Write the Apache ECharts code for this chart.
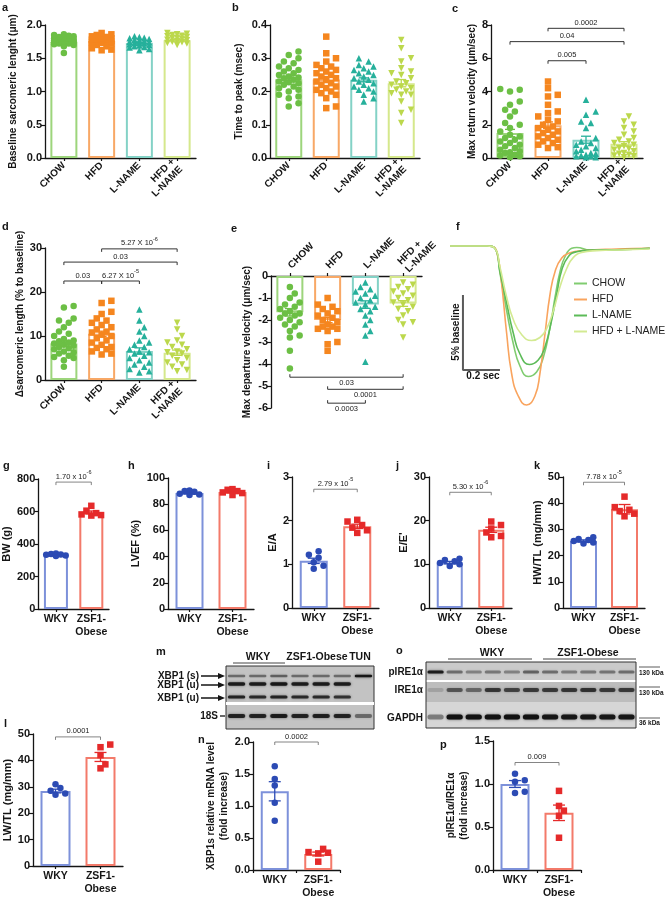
<!DOCTYPE html>
<html><head><meta charset="utf-8">
<script src="https://cdn.jsdelivr.net/npm/echarts@6/dist/echarts.min.js"></script>
<style>html,body{margin:0;padding:0;background:#fff}#c{width:667px;height:900px}</style>
</head><body><div id="c"></div>
<script>
// ================= DATA =================
const groupCats = ['CHOW','HFD','L-NAME','HFD +\nL-NAME'];
const pairCats = ['WKY','ZSF1-\nObese'];

// a: baseline sarcomeric length (µm)
const a_CHOW = [1.58,1.68,1.70,1.71,1.72,1.72,1.73,1.74,1.74,1.75,1.75,1.76,1.76,1.77,1.77,1.78,1.78,1.79,1.80,1.80,1.81,1.82,1.83,1.84,1.85,1.86];
const a_HFD = [1.62,1.63,1.65,1.68,1.70,1.72,1.73,1.74,1.75,1.76,1.76,1.77,1.78,1.78,1.79,1.80,1.81,1.82,1.83,1.85,1.86,1.88];
const a_LNAME = [1.62,1.64,1.66,1.67,1.68,1.69,1.70,1.71,1.72,1.73,1.73,1.74,1.75,1.76,1.77,1.78,1.79,1.80,1.81,1.82,1.83];
const a_HFDL = [1.70,1.72,1.73,1.74,1.75,1.76,1.77,1.78,1.79,1.80,1.81,1.82,1.83,1.84,1.85,1.86,1.87,1.88];
const a_means = [1.75,1.76,1.73,1.77];
const a_sems = [0.012,0.014,0.012,0.012];

// b: time to peak (msec)
const b_CHOW = [0.155,0.165,0.18,0.185,0.19,0.20,0.205,0.21,0.215,0.22,0.225,0.228,0.23,0.235,0.24,0.242,0.245,0.25,0.255,0.26,0.265,0.27,0.275,0.285,0.29,0.30,0.31,0.32];
const b_HFD = [0.15,0.155,0.18,0.19,0.195,0.20,0.205,0.21,0.215,0.22,0.225,0.23,0.235,0.24,0.245,0.25,0.255,0.26,0.265,0.27,0.275,0.28,0.29,0.30,0.315,0.365];
const b_LNAME = [0.17,0.18,0.19,0.20,0.205,0.21,0.215,0.22,0.225,0.23,0.235,0.24,0.245,0.25,0.255,0.26,0.265,0.27,0.275,0.28,0.29,0.30];
const b_HFDL = [0.105,0.135,0.145,0.17,0.19,0.19,0.195,0.20,0.205,0.21,0.215,0.22,0.225,0.23,0.24,0.25,0.255,0.26,0.27,0.29,0.30,0.33,0.355];
const b_means = [0.237,0.236,0.235,0.225];
const b_sems = [0.007,0.009,0.006,0.011];

// c: max return velocity (µm/sec)
const c_CHOW = [0.05,0.1,0.15,0.2,0.3,0.35,0.4,0.5,0.6,0.7,0.8,0.9,1.0,1.1,1.2,1.3,1.4,1.6,1.8,2.0,2.1,2.5,2.8,2.9,3.2,3.4,4.0,4.1,4.15];
const c_HFD = [0.6,0.65,0.8,0.9,1.0,1.1,1.2,1.3,1.4,1.5,1.6,1.7,1.8,1.9,2.0,2.2,2.3,2.5,2.7,2.8,3.2,3.7,3.8,4.2,4.6];
const c_LNAME = [0.05,0.05,0.1,0.1,0.15,0.2,0.25,0.3,0.4,0.5,0.6,0.7,0.8,0.9,1.0,1.2,1.8,2.1,2.2,2.6,2.8,3.5];
const c_HFDL = [0.05,0.1,0.15,0.2,0.25,0.3,0.4,0.5,0.55,0.6,0.7,0.8,0.9,1.0,1.1,1.2,1.4,1.6,1.8,2.0,2.2,2.5];
const c_means = [1.5,1.97,1.1,0.85];
const c_sems = [0.22,0.2,0.21,0.13];
const c_brackets = [[1,3,7.8],[0,3,7.0],[1,2,5.85]];
const c_bLabels = ['0.0002','0.04','0.005'];

// d: Δ sarcomeric length (% to baseline)
const d_CHOW = [3.0,4.5,5.0,5.2,5.5,6.0,6.3,6.5,7.0,7.2,7.5,7.8,8.0,8.3,8.5,8.8,9.0,9.3,10.0,10.5,11.0,12.0,13.0,13.5,14.0,16.5,16.8];
const d_HFD = [5.8,6.0,6.5,7.0,7.3,7.5,8.0,8.5,9.0,9.5,10.0,10.3,10.8,11.0,11.5,12.0,12.5,13.0,13.5,14.0,15.0,15.5,17.5,18.0];
const d_LNAME = [1.7,2.0,2.5,3.0,3.5,4.0,4.5,5.0,5.5,6.0,6.3,6.5,7.0,7.5,8.0,8.5,9.0,10.0,11.0,12.0,13.5,16.0];
const d_HFDL = [2.0,2.3,3.0,3.5,4.0,4.5,5.0,5.5,6.0,6.3,6.5,7.0,7.5,8.0,8.5,9.0,10.0,11.5,13.0];
const d_means = [8.3,10.5,6.6,6.2];
const d_sems = [0.6,0.6,0.7,0.6];
const d_brackets = [[1,3,29.8],[0,3,26.8],[0,1,22.5],[1,2,22.5]];
const d_bLabels = ['{b|5.27 X 10}{s|-6}','{b|0.03}','{b|0.03}','{b|6.27 X 10}{s|-5}'];

// e: max departure velocity (µm/sec)
const e_CHOW = [-0.5,-0.8,-1.0,-1.2,-1.3,-1.4,-1.5,-1.6,-1.7,-1.7,-1.8,-1.9,-2.0,-2.1,-2.2,-2.3,-2.5,-2.7,-2.8,-3.4,-4.2];
const e_HFD = [-1.0,-1.3,-1.4,-1.5,-1.6,-1.7,-1.8,-1.9,-2.0,-2.1,-2.2,-2.3,-2.3,-2.4,-2.4,-2.5,-3.0,-3.1,-3.4];
const e_LNAME = [-0.3,-0.5,-0.6,-0.7,-0.8,-0.9,-1.0,-1.1,-1.2,-1.3,-1.4,-1.5,-1.6,-1.8,-2.0,-2.2,-2.5,-2.7,-3.9];
const e_HFDL = [-0.3,-0.4,-0.5,-0.6,-0.7,-0.8,-0.9,-1.0,-1.1,-1.2,-1.3,-1.4,-1.5,-1.6,-1.8,-2.0,-2.1,-2.2,-2.8];
const e_means = [-1.65,-2.0,-1.3,-1.25];
const e_sems = [0.17,0.12,0.17,0.13];
const e_brackets = [[0,3,-4.6],[1,3,-5.15],[1,2,-5.78]];
const e_bLabels = ['0.03','0.0001','0.0003'];

// f: sarcomere shortening traces [time (s), % change from baseline]
const f_CHOW = [[0,0],[0.2,0],[0.243,-0.16],[0.27,-1.8],[0.306,-4.3],[0.342,-6.5],[0.378,-8.0],[0.423,-8.7],[0.468,-8.4],[0.505,-7.4],[0.541,-5.4],[0.568,-3.4],[0.595,-1.7],[0.622,-0.7],[0.658,-0.15],[0.685,-0.1],[0.757,-0.27],[0.9,-0.25],[1.08,-0.15]];
const f_HFD = [[0,0],[0.2,0],[0.234,-0.05],[0.26,-0.8],[0.279,-2.5],[0.306,-5.8],[0.333,-8.5],[0.369,-10.0],[0.414,-10.6],[0.459,-10.0],[0.486,-8.5],[0.514,-5.8],[0.541,-3.2],[0.568,-1.7],[0.604,-0.8],[0.649,-0.45],[0.721,-0.3],[0.9,-0.2],[1.08,-0.15]];
const f_LNAME = [[0,0],[0.2,0],[0.243,-0.16],[0.27,-1.7],[0.306,-3.8],[0.342,-5.8],[0.378,-7.2],[0.429,-7.9],[0.477,-7.6],[0.514,-6.7],[0.55,-4.9],[0.577,-3.2],[0.604,-1.6],[0.64,-0.7],[0.685,-0.38],[0.757,-0.27],[0.9,-0.25],[1.08,-0.15]];
const f_HFDL = [[0,0],[0.2,0],[0.243,-0.16],[0.27,-1.4],[0.306,-3.4],[0.342,-4.9],[0.387,-5.9],[0.441,-6.3],[0.486,-6.1],[0.523,-5.5],[0.559,-4.3],[0.595,-2.7],[0.631,-1.5],[0.667,-0.76],[0.712,-0.44],[0.793,-0.31],[0.95,-0.25],[1.08,-0.2]];
const f_scaleBar = [[0.07,-3.27],[0.07,-8.27],[0.27,-8.27]];
const f_names = ['CHOW','HFD','L-NAME','HFD + L-NAME'];

// g-l, n, p: WKY vs ZSF1-Obese
const g_WKY = [338,341,330,326,334,336], g_ZSF = [635,605,590,578,582,575];
const g_means = [333,594], g_sems = [2.3,9];
const h_WKY = [90.5,89.5,87.5,87,88,90], h_ZSF = [91.5,90,87,88.5,91,89];
const h_means = [88.6,89.4], h_sems = [0.6,0.7];
const i_WKY = [1.3,1.22,1.15,1.05,0.97,0.9], i_ZSF = [2.02,1.98,1.9,1.84,1.78,1.72];
const i_means = [1.08,1.87], i_sems = [0.06,0.05];
const j_WKY = [11.3,11.0,10.7,10.3,10.0,9.6], j_ZSF = [19.8,19.0,18.2,17.3,16.5,16.2];
const j_means = [10.4,17.9], j_sems = [0.27,0.6];
const k_WKY = [27.0,26.3,25.6,25.0,24.6,26.0], k_ZSF = [42.5,38.5,37.0,36.0,35.0,37.5];
const k_means = [25.6,37.7], k_sems = [0.4,1.8];
const l_WKY = [31,29.5,28.5,27.5,27], l_ZSF = [46,45,42,38.5,37];
const l_means = [28.4,41.3], l_sems = [0.7,1.7];
const n_WKY = [1.62,1.42,1.32,1.05,0.77], n_ZSF = [0.33,0.28,0.27,0.26,0.13];
const n_means = [1.23,0.25], n_sems = [0.15,0.03];
const p_WKY = [1.12,1.045,1.025,0.91,0.895], p_ZSF = [0.92,0.745,0.69,0.63,0.375];
const p_means = [1.0,0.665], p_sems = [0.04,0.09];
const g_bLabels = ['{b|1.70 x 10}{s|-6}'], i_bLabels = ['{b|2.79 x 10}{s|-5}'], j_bLabels = ['{b|5.30 x 10}{s|-6}'];
const k_bLabels = ['{b|7.78 x 10}{s|-5}'], l_bLabels = ['{b|0.0001}'], n_bLabels = ['{b|0.0002}'], p_bLabels = ['{b|0.009}'];
const g_br = [[0,1,781]], i_br = [[0,1,2.72]], j_br = [[0,1,26.5]], k_br = [[0,1,48]], l_br = [[0,1,48.9]], n_br = [[0,1,2.0]], p_br = [[0,1,1.25]];

// western blots (band intensity per lane, 0..1)
const m_lanes = ['1','2','3','4','5','6','7'];
const m_XBP1s = [0.45,0.45,0.5,0.45,0.45,0.45,0.95];
const m_XBP1u1 = [0.9,0.9,0.95,0.9,0.92,0.9,0];
const m_XBP1u2 = [0.85,0.8,0.85,0.8,0.8,0.75,0];
const m_18S = [0.85,0.85,0.9,0.85,0.88,0.85,0.45];
const o_lanes = ['1','2','3','4','5','6','7','8','9','10','11'];
const o_pIRE = [0.9,0.45,0.35,0.4,0.35,0.5,0.45,0.38,0.4,0.42,0.45];
const o_IRE = [0.15,0.55,0.45,0.72,0.65,0.7,0.7,0.72,0.75,0.7,0.7];
const o_GAPDH = [0.4,1,1,1,1,1,0.95,0.95,0.95,0.95,0.95];

// ================= STYLE / LAYOUT =================
const FONT = 'Arial, "Liberation Sans", Helvetica, sans-serif';
const INK = '#151515';
const grpPoint = ['#6cbf45','#f5861f','#26b09b','#bcd84c'];
const grpBar = ['#9dd57c','#f8a866','#84d2c6','#d5e88c'];
const grpSym = ['circle','rect','triangle','path://M0,0L10,0L5,9Z'];
const pairPoint = ['#2c4bb4','#e52a2a'];
const pairBar = ['#7d91da','#f37a6a'];
const pairSym = ['circle','rect'];
const RICH = {
  b:{fontSize:7.5, fontFamily:FONT, fill:'#222', verticalAlign:'bottom'},
  s:{fontSize:5.5, fontFamily:FONT, fill:'#222', verticalAlign:'top', padding:[0,0,5,0]}
};

const grids=[], xAxes=[], yAxes=[], series=[], graphics=[];

function swarm(vals, ppu, size, halfW){
  const order = vals.map((v,i)=>i).sort((a,b)=>vals[a]-vals[b]);
  const placed=[], offs=new Array(vals.length).fill(0);
  const step=size*0.75, cands=[0];
  for(let k=1;k*step<=halfW;k++){cands.push(k*step,-k*step);}
  order.forEach(i=>{
    const y=vals[i]*ppu; let best=0,bestD=-1;
    for(const c of cands){
      let md=Infinity;
      for(const p of placed){const d=Math.hypot(p[0]-c,p[1]-y); if(d<md) md=d;}
      if(md>=size*0.95){best=c;break;}
      if(md>bestD){bestD=md;best=c;}
    }
    placed.push([best,y]); offs[i]=best;
  });
  return offs;
}

function panel(P){
  const gi=grids.length;
  grids.push({left:P.left,top:P.top,width:P.width,height:P.height});
  xAxes.push({gridIndex:gi,type:'category',data:P.cats,position:P.xTop?'top':'bottom',
    axisLine:{onZero:false,lineStyle:{color:INK,width:1.3}},
    axisTick:{show:true,alignWithLabel:P.tickCenter!==false,length:3,lineStyle:{color:INK,width:1.2}},
    axisLabel:{interval:0,rotate:P.rotate||0,color:INK,fontWeight:'bold',fontSize:P.xFont||10,fontFamily:FONT,margin:P.xMargin||5,lineHeight:P.xLH||11}});
  yAxes.push({gridIndex:gi,type:'value',min:P.min,max:P.max,interval:P.interval,name:P.name,nameLocation:'middle',nameGap:P.nameGap,
    nameTextStyle:{color:INK,fontWeight:'bold',fontSize:P.nameFont||10,fontFamily:FONT,lineHeight:P.nameLH||12},
    axisLine:{show:true,onZero:false,lineStyle:{color:INK,width:1.3}},
    axisTick:{show:true,length:4,lineStyle:{color:INK,width:1.2}},
    splitLine:{show:false},
    axisLabel:{color:INK,fontWeight:'bold',fontSize:P.yFont||11,fontFamily:FONT,margin:3,formatter:P.fmt||(v=>String(v))}});
  series.push({type:'bar',xAxisIndex:gi,yAxisIndex:gi,barWidth:P.barWidth,silent:true,z:2,animation:false,
    data:P.means.map((m,i)=>({value:m,itemStyle:{color:'rgba(255,255,255,0)',borderColor:P.barColors[i],borderWidth:2}}))});
  const ppu=P.height/(P.max-P.min);
  P.points.forEach((vals,i)=>{
    const offs=swarm(vals,ppu,P.sym,P.spread||(P.barWidth/2-1));
    series.push({type:'scatter',xAxisIndex:gi,yAxisIndex:gi,symbol:P.symbols[i],symbolSize:P.sym,z:3,silent:true,
      itemStyle:{color:P.pointColors[i],opacity:1},
      data:vals.map((v,j)=>({value:[i,v],symbolOffset:[offs[j],0]}))});
  });
  series.push({type:'custom',xAxisIndex:gi,yAxisIndex:gi,z:4,silent:true,encode:{x:0,y:1},
    data:P.means.map((m,i)=>[i,m,P.sems[i]]),
    renderItem:(params,api)=>{
      const i=api.value(0),m=api.value(1),s=api.value(2);
      const hi=api.coord([i,m+s]),lo=api.coord([i,m-s]),c=P.pointColors[i],w=P.cap;
      const st={stroke:c,lineWidth:1.3};
      return {type:'group',children:[
        {type:'line',shape:{x1:hi[0],y1:hi[1],x2:lo[0],y2:lo[1]},style:st},
        {type:'line',shape:{x1:hi[0]-w,y1:hi[1],x2:hi[0]+w,y2:hi[1]},style:st},
        {type:'line',shape:{x1:lo[0]-w,y1:lo[1],x2:lo[0]+w,y2:lo[1]},style:st}]};
    }});
  if(P.brackets){
    const d=P.bDir||1;
    series.push({type:'custom',xAxisIndex:gi,yAxisIndex:gi,z:5,silent:true,encode:{x:[0,1],y:2},
      data:P.brackets,
      renderItem:(params,api)=>{
        const a=api.coord([api.value(0),api.value(2)]),b=api.coord([api.value(1),api.value(2)]);
        const t=3*d;
        return {type:'group',children:[
          {type:'polyline',shape:{points:[[a[0],a[1]+t],[a[0],a[1]],[b[0],b[1]],[b[0],b[1]+t]]},style:{stroke:P.bColor||'#333',lineWidth:P.bWidth||1,fill:null}},
          {type:'text',x:(a[0]+b[0])/2,y:a[1]-d*1.5,style:{text:P.bLabels[params.dataIndex],align:'center',verticalAlign:d>0?'bottom':'top',fill:'#222',fontSize:7.5,fontFamily:FONT,rich:RICH}}
        ]};
      }});
  }
}

const G = {cats:groupCats,rotate:45,barColors:grpBar,pointColors:grpPoint,symbols:grpSym,sym:6.5,cap:5,barWidth:27,xMargin:6};
panel(Object.assign({},G,{left:45,top:25,width:151,height:133,min:0,max:2,interval:0.5,fmt:v=>v.toFixed(1),
  name:'Baseline sarcomeric lenght (μm)',nameGap:26,points:[a_CHOW,a_HFD,a_LNAME,a_HFDL],means:a_means,sems:a_sems}));
panel(Object.assign({},G,{left:270,top:25,width:150,height:133,min:0,max:0.4,interval:0.1,fmt:v=>v.toFixed(1),
  name:'Time to peak (msec)',nameGap:25,points:[b_CHOW,b_HFD,b_LNAME,b_HFDL],means:b_means,sems:b_sems}));
panel(Object.assign({},G,{left:491,top:25,width:152,height:133,min:0,max:8,interval:2,
  name:'Max return velocity (μm/sec)',nameGap:13,points:[c_CHOW,c_HFD,c_LNAME,c_HFDL],means:c_means,sems:c_sems,
  brackets:c_brackets,bLabels:c_bLabels.map(s=>'{b|'+s+'}')}));
panel(Object.assign({},G,{left:45,top:248,width:151,height:132,min:0,max:30,interval:10,
  name:'Δsarcomeric length (% to baseline)',nameGap:17,points:[d_CHOW,d_HFD,d_LNAME,d_HFDL],means:d_means,sems:d_sems,
  brackets:d_brackets,bLabels:d_bLabels}));
panel(Object.assign({},G,{left:271,top:276,width:151,height:132,min:-6,max:0,interval:1,xTop:true,rotate:-45,xMargin:9,
  name:'Max departure velocity (μm/sec)',nameGap:18,points:[e_CHOW,e_HFD,e_LNAME,e_HFDL],means:e_means,sems:e_sems,
  brackets:e_brackets,bLabels:e_bLabels.map(s=>'{b|'+s+'}'),bDir:-1}));

const PP = {cats:pairCats,barColors:pairBar,pointColors:pairPoint,symbols:pairSym,sym:6.5,cap:6,xFont:10.5,xLH:13,xMargin:4,nameFont:11,bColor:'#666',bWidth:0.8};
panel(Object.assign({},PP,{left:37,top:479,width:72,height:130,min:0,max:800,interval:200,name:'BW (g)',nameGap:22,barWidth:24,
  points:[g_WKY,g_ZSF],means:g_means,sems:g_sems,brackets:g_br,bLabels:g_bLabels}));
panel(Object.assign({},PP,{left:168,top:478,width:86,height:131,min:0,max:100,interval:20,name:'LVEF (%)',nameGap:26,barWidth:28,
  points:[h_WKY,h_ZSF],means:h_means,sems:h_sems}));
panel(Object.assign({},PP,{left:292,top:477,width:87,height:131,min:0,max:3,interval:1,name:'E/A',nameGap:10,barWidth:28,
  points:[i_WKY,i_ZSF],means:i_means,sems:i_sems,brackets:i_br,bLabels:i_bLabels}));
panel(Object.assign({},PP,{left:429,top:477,width:83,height:131,min:0,max:30,interval:10,name:"E/E'",nameGap:16,barWidth:26,
  points:[j_WKY,j_ZSF],means:j_means,sems:j_sems,brackets:j_br,bLabels:j_bLabels}));
panel(Object.assign({},PP,{left:563,top:477,width:82,height:131,min:0,max:50,interval:10,name:'HW/TL (mg/mm)',nameGap:15,barWidth:27,
  points:[k_WKY,k_ZSF],means:k_means,sems:k_sems,brackets:k_br,bLabels:k_bLabels}));
panel(Object.assign({},PP,{left:33,top:734,width:90,height:132,min:0,max:50,interval:10,name:'LW/TL (mg/mm)',nameGap:17,barWidth:30,
  points:[l_WKY,l_ZSF],means:l_means,sems:l_sems,brackets:l_br,bLabels:l_bLabels}));
panel(Object.assign({},PP,{left:253,top:742,width:87,height:132,min:0,max:2,interval:0.5,fmt:v=>v.toFixed(1),
  name:'XBP1s relative mRNA level\n(fold increase)',nameGap:22,nameFont:10,nameLH:13,barWidth:28,tickCenter:false,
  points:[n_WKY,n_ZSF],means:n_means,sems:n_sems,brackets:n_br,bLabels:n_bLabels}));
panel(Object.assign({},PP,{left:493,top:741,width:88,height:132,min:0,max:1.5,interval:0.5,fmt:v=>v.toFixed(1),
  name:'pIRE1α/IRE1α\n(fold increase)',nameGap:19,nameFont:10,nameLH:13,barWidth:29,tickCenter:false,
  points:[p_WKY,p_ZSF],means:p_means,sems:p_sems,brackets:p_br,bLabels:p_bLabels}));

// f traces
(function(){
  const fi=grids.length;
  grids.push({left:450,top:231,width:200,height:195});
  xAxes.push({gridIndex:fi,type:'value',min:0,max:1.081,show:false});
  yAxes.push({gridIndex:fi,type:'value',min:-12,max:1,show:false});
  const cols=['#80cc70','#f9a45e','#5cbb58','#d3ea92'];
  [f_CHOW,f_HFD,f_LNAME,f_HFDL].forEach((d,i)=>{
    series.push({type:'line',name:f_names[i],xAxisIndex:fi,yAxisIndex:fi,data:d,showSymbol:false,smooth:0.5,
      lineStyle:{color:cols[i],width:1.6},itemStyle:{color:cols[i]},z:3,silent:true});
  });
  series.push({type:'line',xAxisIndex:fi,yAxisIndex:fi,data:f_scaleBar,showSymbol:false,lineStyle:{color:'#5a5a5a',width:2},silent:true});
})();

// blots
function blot(B){
  const bi=grids.length;
  grids.push({left:B.left,top:B.top,width:B.width,height:B.height});
  xAxes.push({gridIndex:bi,type:'category',data:B.lanes,show:false});
  yAxes.push({gridIndex:bi,type:'value',min:0,max:B.height,inverse:true,show:false});
  B.rows.forEach((vals,r)=>{
    series.push({type:'custom',xAxisIndex:bi,yAxisIndex:bi,silent:true,z:6,encode:{x:0,y:1},
      data:vals.map((a,i)=>[i,B.rowY[r],a]),
      renderItem:(params,api)=>{
        const a=api.value(2); if(a<=0) return null;
        const c=api.coord([api.value(0),api.value(1)]),w=api.size([1,0])[0]*B.frac,h=B.bandH[r];
        return {type:'rect',shape:{x:c[0]-w/2,y:c[1]-h/2,width:w,height:h,r:h/2},
          style:{fill:'rgba(18,18,18,'+a+')',shadowBlur:2.5,shadowColor:'rgba(18,18,18,'+(a*0.7)+')'}};
      }});
  });
}
blot({left:226,top:666,width:148,height:63,lanes:m_lanes,rows:[m_XBP1s,m_XBP1u1,m_XBP1u2,m_18S],rowY:[10,18,31,50],bandH:[2.5,3.5,3,4],frac:0.82});
blot({left:426,top:662,width:210,height:66,lanes:o_lanes,rows:[o_pIRE,o_IRE,o_GAPDH],rowY:[10,28,55],bandH:[3,4,5],frac:0.85});

// ================= GRAPHICS (labels, blot frames) =================
function T(text,x,y,o){o=o||{};graphics.push({type:'text',x:x,y:y,rotation:o.r||0,z:20,
  style:{text:text,font:(o.w||'bold')+' '+(o.s||11)+'px '+FONT,fill:o.c||INK,align:o.a||'left',verticalAlign:o.v||'top',textAlign:o.a||'left',textVerticalAlign:o.v||'top'}});}
function L(pts,o){o=o||{};graphics.push({type:'polyline',z:20,shape:{points:pts},style:{stroke:o.c||INK,lineWidth:o.w||1,fill:null}});}
function R(x,y,w,h,fill,stroke,z){graphics.push({type:'rect',z:z||0,shape:{x:x,y:y,width:w,height:h},style:{fill:fill,stroke:stroke||null,lineWidth:1}});}

[['a',2,2],['b',232,2],['c',452,3],['d',2,221],['e',231,223],['f',456,221],['g',3,460],['h',128,460],['i',267,460],['j',396,460],
 ['k',534,460],['l',4,718],['m',156,646],['n',198,734],['o',396,645],['p',440,739]].forEach(p=>T(p[0],p[1],p[2],{s:11}));

// f annotations
T('5% baseline',456,332,{r:Math.PI/2,a:'center',v:'middle',s:10});
T('0.2 sec',483,376,{a:'center',v:'middle',s:10});

// blot m
R(226,666,148,63,'#c3c3c3','#333',0);
R(226,702,148,3,'#ffffff',null,1);
T('WKY',258,657,{a:'center',v:'middle',s:10.5});
L([[233,663],[285,663]],{w:1,c:'#444'});
T('ZSF1-Obese',317,657,{a:'center',v:'middle',s:10.5});
T('TUN',360,657,{a:'center',v:'middle',s:10.5});
[['XBP1 (s)',676],['XBP1 (u)',685],['XBP1 (u)',698]].forEach(r=>{
  T(r[0],199,r[1],{a:'right',v:'middle',s:10});
  L([[201,r[1]],[219,r[1]]],{w:1.5});
  graphics.push({type:'polygon',z:20,shape:{points:[[218,r[1]-3],[225,r[1]],[218,r[1]+3]]},style:{fill:INK}});
});
T('18S',218,716,{a:'right',v:'middle',s:10});
L([[220,716],[225,716]],{w:1.3});

// blot o
R(426,662,210,19,'#cacaca',null,0);
R(426,682,210,20,'#bdbdbd',null,0);
R(426,702,210,26,'#d6d6d6',null,0);
R(426,680,210,2,'#ffffff',null,1);
R(426,662,210,66,'rgba(0,0,0,0)','#333',1);
T('pIRE1α',423,672,{a:'right',v:'middle',s:10});
T('IRE1α',423,690,{a:'right',v:'middle',s:10});
T('GAPDH',423,718,{a:'right',v:'middle',s:10});
T('WKY',492,653,{a:'center',v:'middle',s:10.5});
L([[448,659],[532,659]],{w:1,c:'#444'});
T('ZSF1-Obese',588,653,{a:'center',v:'middle',s:10.5});
L([[543,659],[636,659]],{w:1,c:'#444'});
[['130 kDa',673,667],['130 kDa',693,687],['36 kDa',723,718]].forEach(r=>{
  T(r[0],639,r[1],{a:'left',v:'middle',s:6.5});
  L([[639,r[2]],[660,r[2]]],{w:0.8,c:'#333'});
});

const chart=echarts.init(document.getElementById('c'),null,{renderer:'canvas'});
chart.setOption({
  animation:false,
  backgroundColor:'#ffffff',
  textStyle:{fontFamily:FONT},
  grid:grids,xAxis:xAxes,yAxis:yAxes,series:series,graphic:{elements:graphics},
  legend:{data:f_names,orient:'vertical',left:569,top:273,itemWidth:13,itemHeight:2,itemGap:5,icon:'rect',selectedMode:false,
    textStyle:{fontSize:10.5,color:'#222',fontFamily:FONT}}
});
</script></body></html>
